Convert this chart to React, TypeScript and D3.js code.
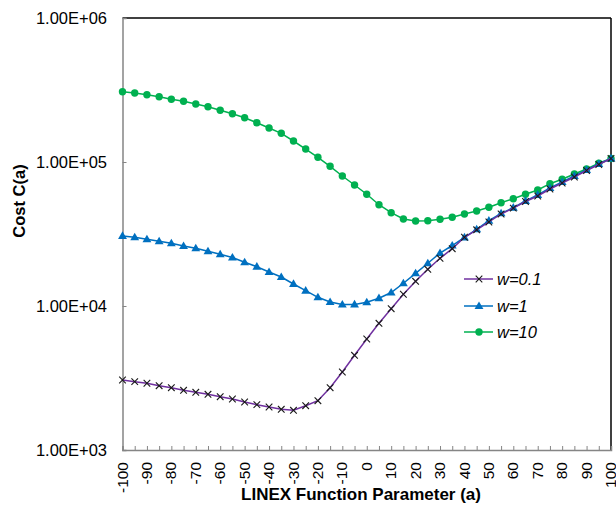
import React, { Component } from "react";
import * as d3 from "d3";

// LINEX parameter a, step 5
const params: number[] = d3.range(-100, 101, 5);

const costW01: number[] = [
  3064, 2982, 2906, 2796, 2708, 2598, 2516, 2437, 2345, 2261, 2154, 2064, 1989, 1917, 1887,
  2031, 2200, 2708, 3480, 4546, 5900, 7584, 9577, 12060, 14840, 17980, 21440, 25000, 30010,
  33820, 38320, 43550, 47800, 53180, 58060, 64940, 71480, 78680, 87300, 96080, 105800,
];
const costW1: number[] = [
  30640, 30010, 29060, 28140, 27250, 26100, 25160, 23980, 22860, 21720, 20120, 18750, 17220,
  15900, 14220, 12770, 11490, 10660, 10240, 10260, 10610, 11330, 12410, 14380, 16870, 19800,
  23340, 26310, 29910, 34090, 39130, 44030, 48140, 53610, 59020, 65990, 72630, 79950, 87990,
  96850, 105800,
];
const costW10: number[] = [
  307700, 301500, 293400, 284200, 272600, 264000, 252700, 242100, 228600, 216500, 203000,
  187500, 172200, 158200, 139900, 123100, 107800, 93350, 79950, 69230, 59690, 50520, 44450,
  40200, 38940, 39130, 40000, 41300, 43550, 45670, 48450, 52170, 55620, 59690, 63930, 70700,
  75840, 82560, 89430, 97950, 105800,
];

const seriesNames: string[] = ["w=0.1", "w=1", "w=10"];
const yTickValues: number[] = [1e3, 1e4, 1e5, 1e6];
const yTickLabels: string[] = ["1.00E+03", "1.00E+04", "1.00E+05", "1.00E+06"];
const xLabelValues: number[] = d3.range(-100, 101, 10);

const FONT = "'Liberation Sans', Arial, Helvetica, sans-serif";

class App extends Component {
  myRef = React.createRef<SVGSVGElement>();

  componentDidMount() {
    this.drawChart();
  }

  drawChart() {
    const svg = d3.select(this.myRef.current);
    svg.selectAll("*").remove();

    const left = 122.5, right = 611, top = 18, bottom = 450;
    const x = d3.scaleLinear().domain([-100, 100]).range([left, right]);
    const y = d3.scaleLog().domain([1e3, 1e6]).range([bottom, top]);

    const axisGray = "#858585";

    // frame: top and right are black, axes gray
    svg.append("line").attr("x1", left).attr("x2", right).attr("y1", top).attr("y2", top)
      .attr("stroke", "#000").attr("stroke-width", 1.5);
    svg.append("line").attr("x1", right).attr("x2", right).attr("y1", top).attr("y2", bottom)
      .attr("stroke", "#000").attr("stroke-width", 1.5);

    // x axis, ticks pointing inside
    const xAxis = d3.axisBottom(x).tickValues(params).tickSize(-4).tickFormat(() => "");
    const gx = svg.append("g").attr("transform", `translate(0,${bottom})`).call(xAxis);
    gx.select(".domain").attr("stroke", axisGray).attr("stroke-width", 1.5);
    gx.selectAll(".tick line").attr("stroke", axisGray).attr("stroke-width", 1);

    const yAxis = d3.axisLeft(y).tickValues(yTickValues).tickSize(-4).tickFormat(() => "");
    const gy = svg.append("g").attr("transform", `translate(${left},0)`).call(yAxis);
    gy.select(".domain").attr("stroke", axisGray).attr("stroke-width", 1.5);
    gy.selectAll(".tick line").attr("stroke", axisGray).attr("stroke-width", 1);

    // y tick labels
    svg.append("g").selectAll("text").data(yTickValues).enter().append("text")
      .attr("x", 107)
      .attr("y", d => y(d))
      .attr("dy", "0.35em")
      .attr("text-anchor", "end")
      .attr("font-family", FONT)
      .attr("font-size", 16.5)
      .attr("fill", "#000")
      .text((d, i) => yTickLabels[i]);

    // x tick labels rotated
    svg.append("g").selectAll("text").data(xLabelValues).enter().append("text")
      .attr("transform", d => `translate(${x(d)},462) rotate(-90)`)
      .attr("dy", "0.33em")
      .attr("text-anchor", "end")
      .attr("font-family", FONT)
      .attr("font-size", 15.5)
      .attr("fill", "#000")
      .text(d => String(d));

    svg.append("text")
      .attr("x", 361).attr("y", 500)
      .attr("text-anchor", "middle")
      .attr("font-family", FONT).attr("font-size", 17).attr("font-weight", "bold")
      .text("LINEX Function Parameter (a)");

    svg.append("text")
      .attr("transform", "translate(25,201) rotate(-90)")
      .attr("text-anchor", "middle")
      .attr("font-family", FONT).attr("font-size", 16.5).attr("font-weight", "bold")
      .text("Cost C(a)");

    const line = d3.line<number>()
      .x((d, i) => x(params[i]))
      .y(d => y(d));

    const colors = ["#7030A0", "#0070C0", "#00B050"];
    const allSeries = [costW01, costW1, costW10];

    const drawMarker = (g: any, kind: number, cx: number, cy: number) => {
      if (kind === 0) {
        const s = 3.3;
        g.append("path")
          .attr("d", `M${cx - s},${cy - s}L${cx + s},${cy + s}M${cx - s},${cy + s}L${cx + s},${cy - s}`)
          .attr("stroke", "#1a1a1a").attr("stroke-width", 1.1).attr("fill", "none");
      } else if (kind === 1) {
        g.append("path")
          .attr("d", d3.symbol().type(d3.symbolTriangle).size(34)())
          .attr("transform", `translate(${cx},${cy + 0.5})`)
          .attr("fill", colors[1]);
      } else {
        g.append("circle").attr("cx", cx).attr("cy", cy).attr("r", 3.7).attr("fill", colors[2]);
      }
    };

    // draw w=10 first, then w=1, then w=0.1 on top
    [2, 1, 0].forEach(k => {
      const data = allSeries[k];
      const g = svg.append("g");
      g.append("path")
        .datum(data)
        .attr("d", line)
        .attr("fill", "none")
        .attr("stroke", colors[k])
        .attr("stroke-width", 1.5);
      data.forEach((v, i) => drawMarker(g, k, x(params[i]), y(v)));
    });

    // legend
    const legendRows = [279, 306, 332];
    seriesNames.forEach((name, k) => {
      const g = svg.append("g");
      const ly = legendRows[k];
      g.append("line").attr("x1", 464).attr("x2", 493).attr("y1", ly).attr("y2", ly)
        .attr("stroke", colors[k]).attr("stroke-width", 1.5);
      drawMarker(g, k, 479, ly);
      g.append("text")
        .attr("x", 497).attr("y", ly).attr("dy", "0.35em")
        .attr("font-family", FONT).attr("font-size", 16.5).attr("font-style", "italic")
        .text(name);
    });
  }

  render() {
    return (
      <svg
        ref={this.myRef}
        width={616}
        height={508}
        style={{ position: "absolute", left: 0, top: 0, background: "#fff" }}
      />
    );
  }
}

export default App;
